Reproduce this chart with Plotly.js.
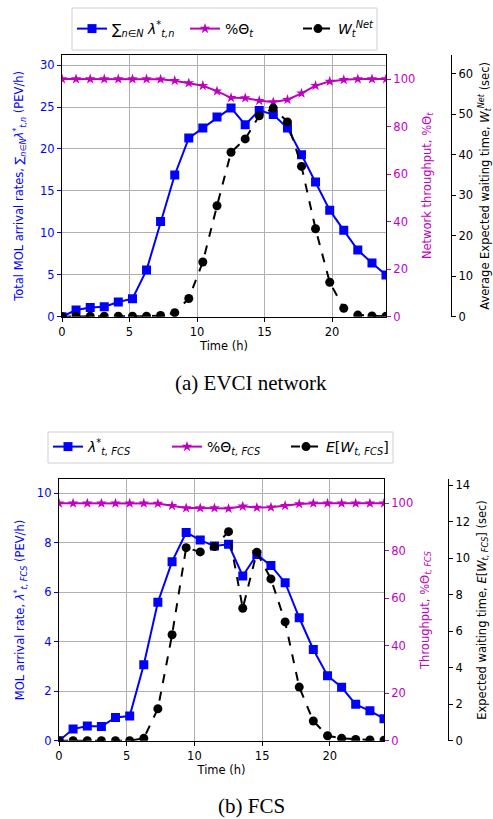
<!DOCTYPE html>
<html>
<head>
<meta charset="utf-8">
<script src="https://cdn.plot.ly/plotly-3.0.1.min.js"></script>
<style>html,body{margin:0;padding:0;background:#fff;}#chart{width:493px;height:819px;}</style>
</head>
<body>
<div id="chart"></div>
<script>
// Time (h) of each sample
const timeH = [0, 1.04, 2.09, 3.13, 4.17, 5.22, 6.26, 7.30, 8.35, 9.39, 10.43, 11.48, 12.52, 13.57, 14.61, 15.65, 16.70, 17.74, 18.78, 19.83, 20.87, 21.91, 22.96, 24.0];

// (a) EVCI network
const netArrival = [0, 0.8, 1.1, 1.2, 1.75, 2.15, 5.56, 11.36, 16.9, 21.3, 22.5, 23.8, 24.9, 22.9, 24.6, 24.1, 22.5, 19.3, 16.05, 12.7, 10.3, 7.95, 6.4, 4.97];
const netThroughput = [100, 100, 100, 100, 100, 100, 100, 99.9, 99.3, 98.3, 97.2, 94.9, 92.1, 92.0, 90.9, 90.3, 91.3, 94.0, 97.2, 99.0, 99.7, 100, 100, 100];
const netWait = [0, 0.1, 0.1, 0.1, 0.1, 0.1, 0.1, 0.3, 1.0, 4.5, 13.5, 27.4, 40.6, 43.9, 49.6, 51.5, 48.1, 37.1, 21.7, 8.5, 2.1, 0.4, 0.2, 0.1];

// (b) FCS
const fcsArrival = [0, 0.47, 0.59, 0.57, 0.94, 1.0, 3.07, 5.6, 7.24, 8.42, 8.11, 7.87, 7.94, 6.66, 7.53, 7.08, 6.39, 4.97, 3.69, 2.63, 2.16, 1.47, 1.21, 0.89];
const fcsThroughput = [100, 100, 100, 100, 100, 100, 100, 99.9, 99.0, 98.0, 98.0, 98.0, 97.8, 98.7, 98.2, 98.3, 99.0, 99.7, 100, 100, 100, 100, 100, 100];
const fcsWait = [0, 0, 0, 0, 0, 0, 0.13, 1.75, 5.81, 10.58, 10.35, 10.64, 11.46, 7.26, 10.33, 8.87, 6.51, 2.94, 1.08, 0.27, 0.13, 0.07, 0.04, 0.03];

// Tick labels
const timeTicks = [0, 5, 10, 15, 20];
const pctTicks = [0, 20, 40, 60, 80, 100];

const BLUE = '#0000ff', MAG = '#bf00bf', BLK = '#000000', GRID = '#b0b0b0';
const FONT = 'DejaVu Sans';

function series(x, y, name, xa, ya, color, symbol, size, dash, legend) {
  return {x: x, y: y, name: name, xaxis: xa, yaxis: ya, legend: legend,
    type: 'scatter', mode: 'lines+markers',
    line: {color: color, width: 2, dash: dash},
    marker: {color: color, symbol: symbol, size: size, line: {width: 0}},
    cliponaxis: true};
}

const data = [
  series(timeH, netArrival, '∑<sub><i>n∈N</i></sub> <i>λ</i><sup>*</sup><sub><i>t,n</i></sub>', 'x', 'y', BLUE, 'square', 9, 'solid', 'legend'),
  series(timeH, netThroughput, '%Θ<sub><i>t</i></sub>', 'x', 'y2', MAG, 'star', 8, 'solid', 'legend'),
  series(timeH, netWait, '<i>W</i><sub><i>t</i></sub><sup><i>Net</i></sup>', 'x', 'y3', BLK, 'circle', 9, 'dash', 'legend'),
  series(timeH, fcsArrival, '<i>λ</i><sup>*</sup><sub><i>t, FCS</i></sub>', 'x2', 'y4', BLUE, 'square', 9, 'solid', 'legend2'),
  series(timeH, fcsThroughput, '%Θ<sub><i>t, FCS</i></sub>', 'x2', 'y5', MAG, 'star', 8, 'solid', 'legend2'),
  series(timeH, fcsWait, '<i>E</i>[<i>W</i><sub><i>t, FCS</i></sub>]', 'x2', 'y6', BLK, 'circle', 9, 'dash', 'legend2')
];

const tf = (c) => ({family: FONT, size: 11.5, color: c});

function xax(domain, anchor) {
  return {domain: domain, anchor: anchor, range: [0, 24], tickvals: timeTicks,
    showgrid: true, gridcolor: GRID, gridwidth: 1, zeroline: false,
    showline: true, mirror: true, linecolor: BLK, linewidth: 1.2,
    ticks: 'outside', ticklen: 4, tickcolor: BLK, tickfont: tf(BLK),
    title: {text: 'Time (h)', font: tf(BLK), standoff: 3}};
}
function leftY(domain, anchor, range, dtick, title, standoff) {
  return {domain: domain, anchor: anchor, range: range, dtick: dtick,
    showgrid: true, gridcolor: GRID, gridwidth: 1, zeroline: false,
    showline: true, mirror: true, linecolor: BLK, linewidth: 1.2,
    ticks: 'outside', ticklen: 4, tickcolor: BLUE, tickfont: tf(BLUE),
    title: {text: title, font: tf(BLUE), standoff: standoff}};
}
function pctY(domain, over, anchor, title) {
  return {domain: domain, overlaying: over, anchor: anchor, side: 'right',
    range: [0, 110.1], tickvals: pctTicks, showgrid: false, zeroline: false, showline: false,
    ticks: 'outside', ticklen: 4, tickcolor: MAG, tickfont: tf(MAG),
    title: {text: title, font: tf(MAG), standoff: 8}};
}
function waitY(domain, over, pos, range, dtick, title) {
  return {domain: domain, overlaying: over, anchor: 'free', position: pos, side: 'right',
    range: range, dtick: dtick, showgrid: false, zeroline: false,
    showline: true, linecolor: BLK, linewidth: 1.2,
    ticks: 'outside', ticklen: 4, tickcolor: BLK, tickfont: tf(BLK),
    title: {text: title, font: tf(BLK), standoff: 8}};
}

const topY = [0.6133, 0.9328], botY = [0.0956, 0.4148];
const legFont = {family: FONT, size: 14, color: BLK};

function frame(x0, y0, x1, y1) {
  return {type: 'rect', xref: 'paper', yref: 'paper', x0: x0/493, x1: x1/493,
    y0: 1 - y0/819, y1: 1 - y1/819, line: {color: '#d0d0d0', width: 1}, fillcolor: 'rgba(0,0,0,0)', layer: 'below'};
}

const layout = {
  width: 493, height: 819, margin: {l: 0, r: 0, t: 0, b: 0},
  paper_bgcolor: '#fff', plot_bgcolor: '#fff',
  font: {family: FONT, size: 11.5, color: BLK},
  showlegend: true, hovermode: false,
  xaxis: xax([0.1258, 0.7830], 'y'),
  yaxis: leftY(topY, 'x', [0, 31.2], 5, 'Total MOL arrival rates, ∑<sub><i>n∈N</i></sub><i>λ</i><sup>*</sup><sub><i>t,n</i></sub> (PEV/h)', 13),
  yaxis2: pctY(topY, 'y', 'x', 'Network throughput, %Θ<sub><i>t</i></sub>'),
  yaxis3: waitY(topY, 'y', 0.9148, [0, 64.6], 10, 'Average Expected waiting time, <i>W</i><sub><i>t</i></sub><sup><i>Net</i></sup> (sec)'),
  xaxis2: xax([0.1197, 0.7789], 'y4'),
  yaxis4: leftY(botY, 'x2', [0, 10.57], 2, 'MOL arrival rate, <i>λ</i><sup>*</sup><sub><i>t, FCS</i></sub> (PEV/h)', 9),
  yaxis5: pctY(botY, 'y4', 'x2', 'Throughput, %Θ<sub><i>t, FCS</i></sub>'),
  yaxis6: waitY(botY, 'y4', 0.9087, [0, 14.33], 2, 'Expected waiting time, <i>E</i>[<i>W</i><sub><i>t, FCS</i></sub>] (sec)'),
  legend: {x: 72/493, y: 1 - 29/819, xanchor: 'left', yanchor: 'middle', orientation: 'h',
    bgcolor: 'rgba(0,0,0,0)', borderwidth: 0, font: legFont, itemwidth: 30,
    entrywidth: 68, entrywidthmode: 'pixels'},
  legend2: {x: 48/493, y: 1 - 447/819, xanchor: 'left', yanchor: 'middle', orientation: 'h',
    bgcolor: 'rgba(0,0,0,0)', borderwidth: 0, font: legFont, itemwidth: 30,
    entrywidth: 74, entrywidthmode: 'pixels'},
  shapes: [frame(72, 8, 377, 50), frame(48, 432, 393, 463)],
  annotations: [
    {text: '(a) EVCI network', xref: 'paper', yref: 'paper', x: 251/493, y: 1 - 383/819,
     xanchor: 'center', yanchor: 'middle', showarrow: false,
     font: {family: 'Liberation Serif', size: 21, color: BLK}},
    {text: '(b) FCS', xref: 'paper', yref: 'paper', x: 251/493, y: 1 - 806/819,
     xanchor: 'center', yanchor: 'middle', showarrow: false,
     font: {family: 'Liberation Serif', size: 21, color: BLK}}
  ]
};

Plotly.newPlot('chart', data, layout, {displayModeBar: false, staticPlot: true});
</script>
</body>
</html>
